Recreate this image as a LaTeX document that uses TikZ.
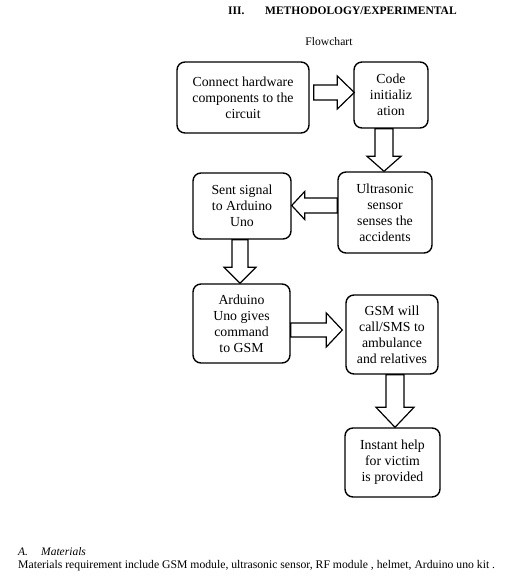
\documentclass[tikz,border=0pt]{standalone}
\usepackage{fontspec}
\setmainfont{Liberation Serif}
\usetikzlibrary{calc}

\tikzset{
  stepbox/.style={draw, line width=1.4pt, rounded corners=8pt, align=center,
    inner sep=0pt, font=\fontsize{13.8}{16}\selectfont},
  txt/.style={inner sep=0pt, anchor=base west},
  fat/.style n args={3}{draw, line width=1.2pt, to path={
    let \p1=(\tikztostart), \p2=(\tikztotarget),
        \n1={veclen(\x2-\x1,\y2-\y1)}, \n2={(\x2-\x1)/\n1},
        \n3={(\y2-\y1)/\n1}, \n4={\n1-#3}
    in ({\x1-#1*\n3},{\y1+#1*\n2})
    -- ({\x1+\n4*\n2-#1*\n3},{\y1+\n4*\n3+#1*\n2})
    -- ({\x1+\n4*\n2-#2*\n3},{\y1+\n4*\n3+#2*\n2})
    -- (\x2,\y2)
    -- ({\x1+\n4*\n2+#2*\n3},{\y1+\n4*\n3-#2*\n2})
    -- ({\x1+\n4*\n2+#1*\n3},{\y1+\n4*\n3-#1*\n2})
    -- ({\x1+#1*\n3},{\y1-#1*\n2}) -- cycle}}
}

\begin{document}
\begin{tikzpicture}[x=1pt, y=-1pt]
\useasboundingbox (0,0) rectangle (517,578);

\node[txt, font=\fontsize{11.5}{13}\selectfont\bfseries] (secnum) at (228,15) {III.};
\node[txt, font=\fontsize{11.5}{13}\selectfont\bfseries] (sectitle) at (265,15) {METHODOLOGY/EXPERIMENTAL};
\node[inner sep=0pt, anchor=base, font=\fontsize{11.6}{14}\selectfont] (chart) at (329,46) {Flowchart};

\node[stepbox, minimum width=132pt, minimum height=71pt] (hw) at (243,97.5) {Connect hardware\\components to the\\circuit};
\node[stepbox, minimum width=74pt, minimum height=66pt] (init) at (391,95) {Code\\initializ\\ation};
\node[stepbox, minimum width=94pt, minimum height=81pt] (sensor) at (385,212.5) {Ultrasonic\\sensor\\senses the\\accidents};
\node[stepbox, minimum width=98pt, minimum height=66pt] (signal) at (242,206) {Sent signal\\to Arduino\\Uno};
\node[stepbox, minimum width=97pt, minimum height=79pt] (command) at (241.5,323.5) {Arduino\\Uno gives\\command\\to GSM};
\node[stepbox, minimum width=92pt, minimum height=79pt] (gsm) at (392,334.5) {GSM will\\call/SMS to\\ambulance\\and relatives};
\node[stepbox, minimum width=95pt, minimum height=69pt] (help) at (392.5,462.5) {Instant help\\for victim\\is provided};

\draw[fat={7.5}{16.5}{17}] ($(hw.east)+(4,-5)$) to ($(init.west)+(1,-2.5)$);
\draw[fat={9}{17}{15}] ($(init.south)+(-7,0)$) to ($(sensor.north)+(-1,0)$);
\draw[fat={7.5}{14}{13}] ($(sensor.west)+(0,-7)$) to ($(signal.east)+(0,-0.5)$);
\draw[fat={8}{16}{16}] ($(signal.south)+(-2,0)$) to ($(command.north)+(-1.5,0)$);
\draw[fat={7}{17}{16}] ($(command.east)+(0,6.5)$) to ($(gsm.west)+(-3,-4.5)$);
\draw[fat={9}{19}{20}] ($(gsm.south)+(3,0)$) to ($(help.north)+(2.5,0)$);

\node[txt, font=\fontsize{11.5}{13}\selectfont\itshape] (anum) at (18,555) {A.};
\node[txt, font=\fontsize{11.5}{13}\selectfont\itshape] (atitle) at (41,555) {Materials};
\node[txt, font=\fontsize{11.7}{13}\selectfont] (atext) at (18,568) {Materials requirement include GSM module, ultrasonic sensor, RF module , helmet, Arduino uno kit .};

\end{tikzpicture}
\end{document}
